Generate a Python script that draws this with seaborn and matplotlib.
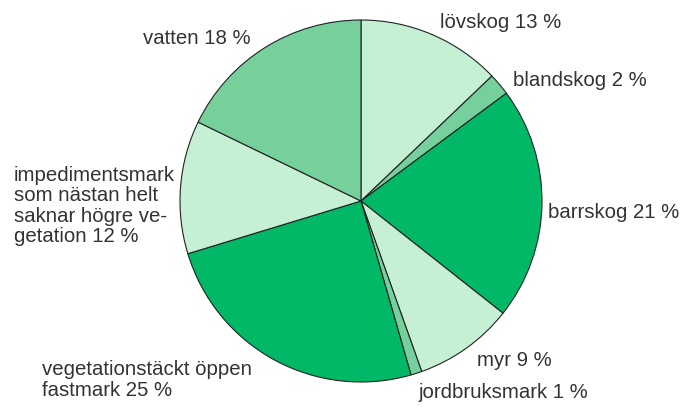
import matplotlib
matplotlib.use('Agg')
import matplotlib.pyplot as plt
import seaborn as sns

sns.set_theme(style='white')
plt.rcParams['font.family'] = ['Liberation Sans', 'DejaVu Sans']

# Markanvändning, andel i procent (medurs från toppen)
categories = ['lövskog', 'blandskog', 'barrskog', 'myr', 'jordbruksmark',
              'vegetationstäckt öppen\nfastmark',
              'impedimentsmark\nsom nästan helt\nsaknar högre ve-\ngetation',
              'vatten']
shares = [13, 2, 21, 9, 1, 25, 12, 18]

light = '#c5f0d3'
mid = '#76d09b'
dark = '#00b865'
colors = [light, mid, dark, light, mid, dark, light, mid]

# etikettpositioner i pixlar (vänsterkant, mitt)
label_pos = [(440, 22), (513, 80), (548, 213), (477, 360), (418, 393),
             (42, 380), (14, 206), (143, 38)]

fig = plt.figure(figsize=(6.81, 4.08), dpi=100)
ax = fig.add_axes([0, 0, 1, 1])

ax.pie(shares, colors=colors, startangle=90, counterclock=False,
       center=(361, 408 - 201), radius=181, frame=True,
       wedgeprops=dict(edgecolor='#222222', linewidth=0.8))
ax.set_xlim(0, 681)
ax.set_ylim(0, 408)
ax.set_aspect('equal')
ax.axis('off')

for name, val, (x, y) in zip(categories, shares, label_pos):
    ax.text(x, 408 - y, f'{name} {val} %', ha='left', va='center',
            fontsize=14.7, color='#333333', linespacing=1.1)

fig.savefig('out.png', dpi=100)
